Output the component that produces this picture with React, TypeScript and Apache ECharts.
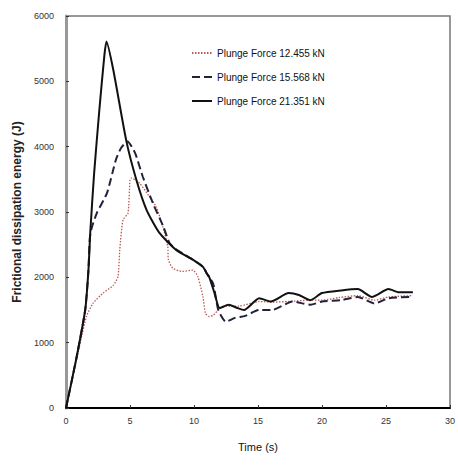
import React, { useEffect, useRef } from "react";
import * as echarts from "echarts";

const seriesNames = ["Plunge Force 12.455 kN", "Plunge Force 15.568 kN", "Plunge Force 21.351 kN"];

const tRed = [0, 0.5, 1.1, 1.6, 2.1, 2.9, 3.7, 4.06, 4.2, 4.45, 4.84, 5.0, 5.1, 5.75, 6.5, 7.05, 7.56, 7.95, 8.0, 8.34, 9.1, 9.9, 10.3, 10.7, 10.9, 11.2, 11.5, 12.0, 12.5, 13.5, 15.1, 16.1, 17.4, 19.0, 20.0, 21.3, 22.8, 24.1, 25.2, 27.1];
const vRed = [0, 450, 990, 1400, 1600, 1760, 1880, 2010, 2420, 2880, 2980, 3490, 3520, 3440, 3240, 3080, 2780, 2470, 2270, 2140, 2090, 2110, 2010, 1700, 1450, 1400, 1420, 1520, 1560, 1560, 1630, 1620, 1630, 1650, 1650, 1690, 1720, 1650, 1700, 1720];

const tDash = [0, 0.8, 1.5, 1.75, 1.86, 2.0, 2.4, 3.2, 3.9, 4.3, 4.8, 5.4, 6.0, 6.8, 7.6, 8.1, 8.6, 9.9, 10.7, 11.0, 11.5, 11.9, 12.5, 13.2, 14.0, 15.1, 16.1, 17.7, 19.1, 20.0, 21.5, 22.8, 24.1, 25.2, 27.1];
const vDash = [0, 750, 1500, 2100, 2600, 2750, 2980, 3290, 3800, 3980, 4080, 3900, 3540, 3130, 2780, 2520, 2430, 2270, 2160, 2060, 1900, 1500, 1320, 1380, 1410, 1500, 1500, 1630, 1580, 1630, 1650, 1700, 1600, 1680, 1700];

const tBlack = [0, 0.8, 1.5, 1.75, 1.9, 2.2, 2.6, 3.0, 3.16, 3.7, 4.7, 5.5, 6.3, 7.3, 8.6, 9.9, 10.7, 11.0, 11.2, 11.6, 12.0, 12.7, 13.4, 13.9, 15.1, 16.0, 17.4, 18.2, 19.1, 20.0, 21.5, 22.8, 23.9, 25.2, 26.0, 27.1];
const vBlack = [0, 750, 1500, 2100, 2700, 3600, 4550, 5400, 5610, 5170, 4100, 3490, 3030, 2680, 2420, 2270, 2160, 2060, 2000, 1760, 1530, 1580, 1530, 1500, 1680, 1630, 1760, 1730, 1650, 1760, 1800, 1820, 1700, 1820, 1770, 1770];

const xTicks = [0, 5, 10, 15, 20, 25, 30];
const yTicks = [0, 1000, 2000, 3000, 4000, 5000, 6000];

const zip = (t: number[], v: number[]) => t.map((x, i) => [x, v[i]]);

export default function App() {
  const ref = useRef<HTMLDivElement>(null);
  useEffect(() => {
    if (!ref.current) return;
    const chart = echarts.init(ref.current, null, { renderer: "svg" });
    const font = "'Liberation Sans', Arial, sans-serif";
    chart.setOption({
      animation: false,
      backgroundColor: "#fff",
      grid: {
        left: 66, right: 6, top: 16, bottom: 57,
        show: true, borderColor: "#777", borderWidth: 1.5,
      },
      legend: {
        orient: "vertical",
        left: 186, top: 43,
        itemWidth: 20, itemHeight: 10, itemGap: 14,
        itemStyle: { opacity: 0 },
        textStyle: { fontSize: 10, color: "#111", fontFamily: font },
        data: seriesNames,
      },
      xAxis: {
        type: "value", min: xTicks[0], max: xTicks[xTicks.length - 1], interval: 5,
        name: "Time (s)", nameLocation: "middle", nameGap: 33,
        nameTextStyle: { fontSize: 11, color: "#111", fontFamily: font },
        axisLine: { lineStyle: { color: "#000", width: 2 } },
        axisTick: { inside: true, length: 3, lineStyle: { color: "#333" } },
        axisLabel: { fontSize: 9, color: "#333", margin: 8, fontFamily: font },
        splitLine: { show: false },
      },
      yAxis: {
        type: "value", min: yTicks[0], max: yTicks[yTicks.length - 1], interval: 1000,
        name: "Frictional dissipation energy (J)", nameLocation: "middle", nameGap: 41,
        nameTextStyle: { fontSize: 12, fontWeight: "bold", color: "#222", fontFamily: font },
        axisLine: { lineStyle: { color: "#999", width: 3 } },
        axisTick: { inside: true, length: 3, lineStyle: { color: "#333" } },
        axisLabel: { fontSize: 9, color: "#333", margin: 12, fontFamily: font, formatter: (v: number) => String(v) },
        splitLine: { show: false },
      },
      series: [
        {
          name: seriesNames[0], type: "line", data: zip(tRed, vRed), symbol: "none", smooth: 0.2,
          lineStyle: { color: "#b75a5a", width: 1.3, type: [1.5, 1.5] },
          itemStyle: { color: "#b75a5a" },
        },
        {
          name: seriesNames[1], type: "line", data: zip(tDash, vDash), symbol: "none", smooth: 0.2,
          lineStyle: { color: "#22223a", width: 2, type: [8, 4] },
          itemStyle: { color: "#22223a" },
        },
        {
          name: seriesNames[2], type: "line", data: zip(tBlack, vBlack), symbol: "none", smooth: 0.2,
          lineStyle: { color: "#111", width: 2 },
          itemStyle: { color: "#111" },
        },
      ],
    });
    return () => chart.dispose();
  }, []);
  return <div ref={ref} style={{ width: 458, height: 465, position: "absolute", left: 0, top: 0 }} />;
}
